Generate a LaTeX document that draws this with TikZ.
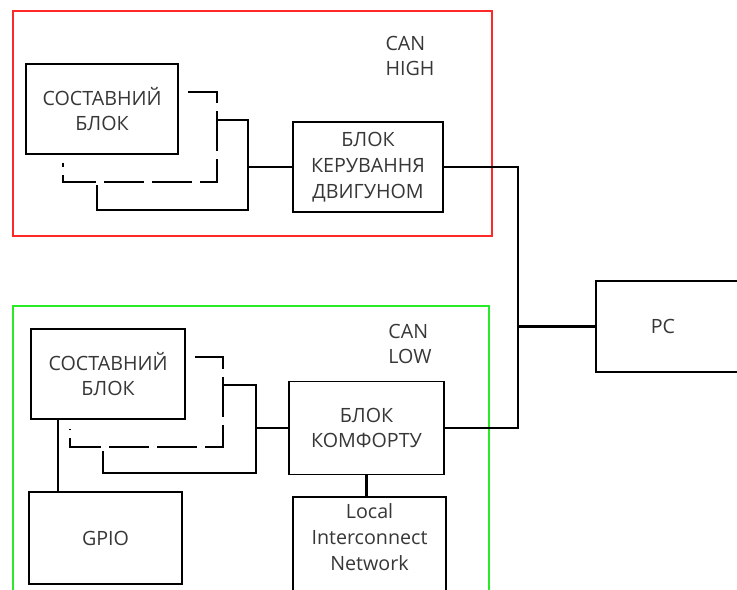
\documentclass[tikz,border=0pt]{standalone}
\usepackage{fontspec}
\setmainfont{Open Sans}
\usepackage{xcolor}
\usetikzlibrary{positioning, calc}
\definecolor{canRed}{RGB}{255,40,40}
\definecolor{canGreen}{RGB}{40,235,40}
\definecolor{labelGray}{RGB}{55,55,55}
\tikzset{
    blockbox/.style={
        rectangle,
        draw=black,
        line width=1.1pt,
        align=center,
        fill=white,
        text=labelGray,
        font=\fontsize{11.2}{14.7}\selectfont
    },
    busframe/.style={draw, line width=1.2pt},
    wire/.style={draw=black, line width=1.2pt},
    shadowdash/.style={draw=black, line width=1.2pt, dash pattern={on 0.8cm off 0.16cm}},
    buslabel/.style={align=left, text=labelGray, font=\fontsize{11.2}{14.7}\selectfont}
}

\begin{document}
\begin{tikzpicture}[x=0.02cm, y=-0.02cm]
        \useasboundingbox (0,0) rectangle (737,589);
        \clip (0,0) rectangle (737,589);

        \draw[busframe, canRed] (13,11) rectangle (492,236);
        \draw[busframe, canGreen] (13,306) rectangle (489,610);

        \node[buslabel] (high) at (410,56) {CAN\\HIGH};
        \node[buslabel] (low) at (410,344) {CAN\\LOW};

        \draw[shadowdash] (188,92) -| (217,182) -| (63,163);
        \draw[wire] (217,120) -| (248,210) -| (97,185);
        \coordinate (hjoin) at (248,167);

        \node[blockbox, minimum width=3.04cm, minimum height=1.8cm] (comphigh) at (102,109) {СОСТАВНИЙ\\БЛОК};
        \node[blockbox, minimum width=3.0cm, minimum height=1.8cm] (engine) at (368,167) {БЛОК\\КЕРУВАННЯ\\ДВИГУНОМ};

        \draw[shadowdash] (195,357) -| (223,447) -| (70,429);
        \draw[wire] (223,385) -| (256,473) -| (103,451);
        \coordinate (ljoin) at (256,428);

        \node[blockbox, minimum width=3.08cm, minimum height=1.8cm] (complow) at (108,374) {СОСТАВНИЙ\\БЛОК};
        \node[blockbox, minimum width=3.1cm, minimum height=1.86cm] (comfort) at (366.5,428) {БЛОК\\КОМФОРТУ};
        \node[blockbox, minimum width=3.06cm, minimum height=1.84cm] (gpio) at (105.5,538) {GPIO};
        \node[blockbox, anchor=north, minimum width=3.06cm, minimum height=2.4cm,
              label={[blockbox, draw=none, fill=none, anchor=north, yshift=-0.02cm]north:Local\\Interconnect\\Network}] (lin) at (369.5,496) {};

        \node[blockbox, minimum width=3.4cm, minimum height=1.82cm,
              label={[blockbox, draw=none, fill=none, xshift=-0.36cm]center:PC}] (pc) at (681,326.5) {};

        \coordinate (bus) at (518,326.5);

        \draw[wire] (hjoin) -- (engine.west);
        \draw[wire] (ljoin) -- (comfort.west);
        \draw[wire] (engine.east) -| (bus) |- (comfort.east);
        \draw[wire] (bus) -- (pc.west);
        \draw[wire] (comfort.south) -- (comfort.south |- lin.north);
        \draw[wire] (complow.south -| 58,0) -- (gpio.north -| 58,0);
    \end{tikzpicture}
\end{document}
